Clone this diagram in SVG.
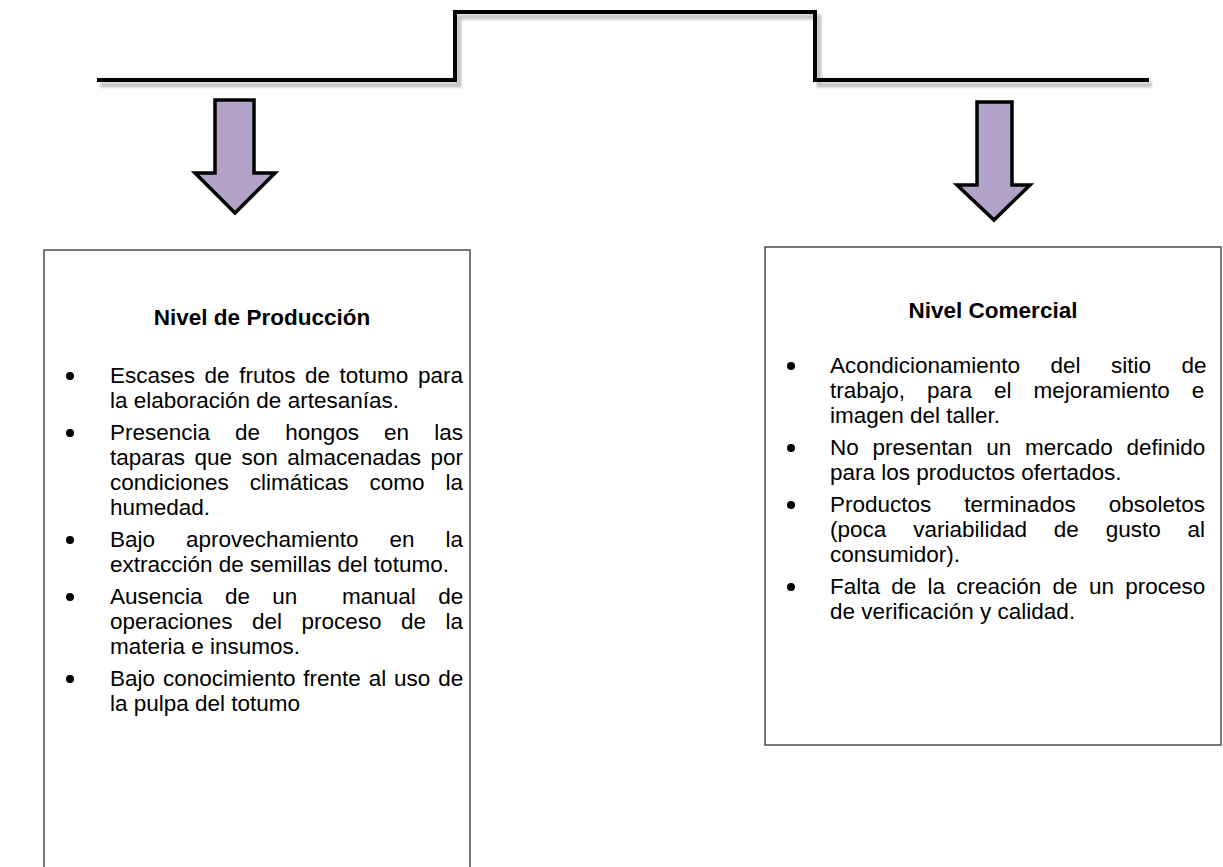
<svg xmlns="http://www.w3.org/2000/svg" width="1223" height="867" viewBox="0 0 1223 867">
<style>
.t{font-family:"Liberation Sans",Arial,sans-serif;font-size:22.5px;fill:#000}
.h{font-family:"Liberation Sans",Arial,sans-serif;font-size:22.5px;font-weight:bold;fill:#000;text-anchor:middle}
.box{fill:#fff;stroke:#333;stroke-width:1.3}
.arrow{fill:#B3A2C7;stroke:#000;stroke-width:3.5;stroke-linejoin:miter}
</style>
<defs>
<filter id="blur" x="-5%" y="-50%" width="110%" height="200%"><feGaussianBlur stdDeviation="1"/></filter>
</defs>
<rect width="1223" height="867" fill="#fff"/>
<g id="connectors">
<path d="M100,85 H459 V17 H819 V85 H1152" fill="none" stroke="#c4c4c4" stroke-width="5" filter="url(#blur)"/>
<path d="M97,80 H455 V12 H815 V80 H1149" fill="none" stroke="#000" stroke-width="4"/>
<path class="arrow" d="M215,100 H254 V173 H275 L235,213 L195,173 H215 Z"/>
<path class="arrow" d="M977,102 H1012 V185 H1030 L994,220 L957,185 H977 Z"/>
</g>
<g id="nivel-produccion">
<rect class="box" x="44" y="250" width="426" height="640"/>
<text class="h" x="262" y="325">Nivel de Producción</text>
<g fill="#000">
<circle cx="70" cy="376" r="4"/>
<circle cx="70" cy="433" r="4"/>
<circle cx="70" cy="540" r="4"/>
<circle cx="70" cy="597" r="4"/>
<circle cx="70" cy="679" r="4"/>
</g>
<text class="t" x="110" y="383" word-spacing="3.3">Escases de frutos de totumo para</text>
<text class="t" x="110" y="408">la elaboración de artesanías.</text>
<text class="t" x="110" y="440" word-spacing="18.8">Presencia de hongos en las</text>
<text class="t" x="110" y="465" word-spacing="3.2">taparas que son almacenadas por</text>
<text class="t" x="110" y="490" word-spacing="14.7">condiciones climáticas como la</text>
<text class="t" x="110" y="515">humedad.</text>
<text class="t" x="110" y="547" word-spacing="24.7">Bajo aprovechamiento en la</text>
<text class="t" x="110" y="572">extracción de semillas del totumo.</text>
<text class="t" x="110" y="604" word-spacing="16.1" xml:space="preserve">Ausencia de un  manual de</text>
<text class="t" x="110" y="629" word-spacing="13.2">operaciones del proceso de la</text>
<text class="t" x="110" y="654">materia e insumos.</text>
<text class="t" x="110" y="686" word-spacing="1.6">Bajo conocimiento frente al uso de</text>
<text class="t" x="110" y="711">la pulpa del totumo</text>
</g>
<g id="nivel-comercial">
<rect class="box" x="765" y="247" width="456" height="498"/>
<text class="h" x="993" y="318">Nivel Comercial</text>
<g fill="#000">
<circle cx="791" cy="366" r="4"/>
<circle cx="791" cy="448" r="4"/>
<circle cx="791" cy="505" r="4"/>
<circle cx="791" cy="587" r="4"/>
</g>
<text class="t" x="830" y="373" word-spacing="24.2">Acondicionamiento del sitio de</text>
<text class="t" x="830" y="398" word-spacing="15.7">trabajo, para el mejoramiento e</text>
<text class="t" x="830" y="423">imagen del taller.</text>
<text class="t" x="830" y="455" word-spacing="7.5">No presentan un mercado definido</text>
<text class="t" x="830" y="480">para los productos ofertados.</text>
<text class="t" x="830" y="512" word-spacing="26.8">Productos terminados obsoletos</text>
<text class="t" x="830" y="537" word-spacing="20.6">(poca variabilidad de gusto al</text>
<text class="t" x="830" y="562">consumidor).</text>
<text class="t" x="830" y="594" word-spacing="5">Falta de la creación de un proceso</text>
<text class="t" x="830" y="619">de verificación y calidad.</text>
</g>
</svg>
